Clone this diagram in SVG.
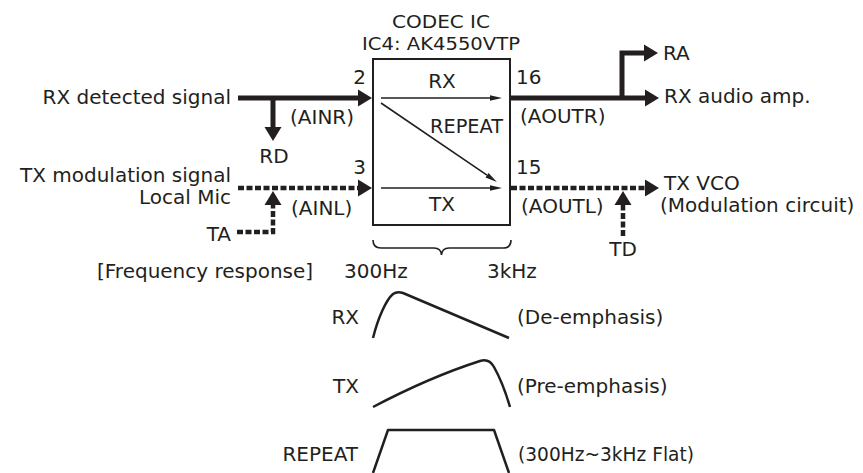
<svg xmlns="http://www.w3.org/2000/svg" width="863" height="473" viewBox="0 0 863 473">
<style>
text{font-family:"DejaVu Sans","Liberation Sans",sans-serif;font-size:20px;fill:#231f20}
.e{text-anchor:end}.m{text-anchor:middle}
.t{font-size:18.5px}
.thick{fill:none;stroke:#231f20;stroke-width:5;stroke-linejoin:miter}
.dash{fill:none;stroke:#231f20;stroke-width:4.5;stroke-dasharray:6 2.5;stroke-linejoin:miter}
.thin{fill:none;stroke:#231f20;stroke-width:1.6}
.curve{fill:none;stroke:#231f20;stroke-width:2.5;stroke-linejoin:round}
</style>
<defs>
<marker id="big" markerUnits="userSpaceOnUse" markerWidth="15" markerHeight="18" refX="0" refY="8.5" orient="auto" overflow="visible"><path d="M0,0 L14,8.5 L0,17 Z" fill="#231f20"/></marker>
<marker id="small" markerUnits="userSpaceOnUse" markerWidth="13" markerHeight="6" refX="0" refY="2.75" orient="auto" overflow="visible"><path d="M0,0 L12,2.75 L0,5.5 Z" fill="#231f20"/></marker>
</defs>
<rect width="863" height="473" fill="#fff"/>

<g id="codec">
<rect x="373" y="59" width="137" height="166" fill="#fff" stroke="#231f20" stroke-width="2"/>
<text x="441" y="28" class="m t" textLength="98" lengthAdjust="spacingAndGlyphs">CODEC IC</text>
<text x="441" y="50" class="m t" textLength="158" lengthAdjust="spacingAndGlyphs">IC4: AK4550VTP</text>
<text x="366" y="84" class="e">2</text>
<text x="366" y="174" class="e">3</text>
<text x="516" y="84">16</text>
<text x="516" y="174">15</text>
<text x="442" y="88" class="m">RX</text>
<text x="503" y="133" class="e" textLength="73" lengthAdjust="spacingAndGlyphs">REPEAT</text>
<text x="442" y="211" class="m">TX</text>
</g>

<g id="inputs">
<text x="231" y="104" class="e">RX detected signal</text>
<text x="290" y="124">(AINR)</text>
<text x="274" y="163" class="m">RD</text>
<text x="231" y="182" class="e">TX modulation signal</text>
<text x="231" y="204" class="e">Local Mic</text>
<text x="291" y="215">(AINL)</text>
<text x="231" y="241" class="e">TA</text>
</g>

<g id="outputs">
<text x="663" y="60">RA</text>
<text x="664" y="103">RX audio amp.</text>
<text x="520" y="123">(AOUTR)</text>
<text x="664" y="190">TX VCO</text>
<text x="660" y="212">(Modulation circuit)</text>
<text x="521" y="213">(AOUTL)</text>
<text x="623" y="256" class="m">TD</text>
</g>

<g id="connectors">
<path class="thick" d="M238,98 H358" marker-end="url(#big)"/>
<path class="thick" d="M273,98 V127" marker-end="url(#big)"/>
<path class="dash" d="M238,188 H358" marker-end="url(#big)"/>
<path class="dash" d="M237,232 H273 V205" marker-end="url(#big)"/>
<path class="thick" d="M511,98 H645" marker-end="url(#big)"/>
<path class="thick" d="M622,98 V53 H644" marker-end="url(#big)"/>
<path class="dash" d="M511,188 H645" marker-end="url(#big)"/>
<path class="dash" d="M623,236 V205" marker-end="url(#big)"/>
<path class="thin" d="M381,98 H490" marker-end="url(#small)"/>
<path class="thin" d="M381,188 H490" marker-end="url(#small)"/>
<path class="thin" d="M381,103 L487,175.2" marker-end="url(#small)"/>
</g>

<g id="response">
<path class="thin" d="M373,240 Q373,248 381,248 L434,248 Q441,248 441.5,255 Q442,248 449,248 L503,248 Q511,248 511,240"/>
<text x="97" y="278">[Frequency response]</text>
<text x="344" y="278">300Hz</text>
<text x="487" y="278">3kHz</text>
<text x="359" y="324" class="e">RX</text>
<path class="curve" d="M373,338 C378,318 386,300 393,294 Q397,291 403,293 L509,338"/>
<text x="517" y="324">(De-emphasis)</text>
<text x="359" y="393" class="e">TX</text>
<path class="curve" d="M373,407 Q430,377 480,361 Q489,358 494,367 Q503,383 510,407"/>
<text x="517" y="393">(Pre-emphasis)</text>
<text x="358" y="461" class="e">REPEAT</text>
<path class="curve" d="M373,473 L388,430 L494,430 L509,473"/>
<text x="518" y="461" textLength="176" lengthAdjust="spacingAndGlyphs">(300Hz~3kHz Flat)</text>
</g>
</svg>
